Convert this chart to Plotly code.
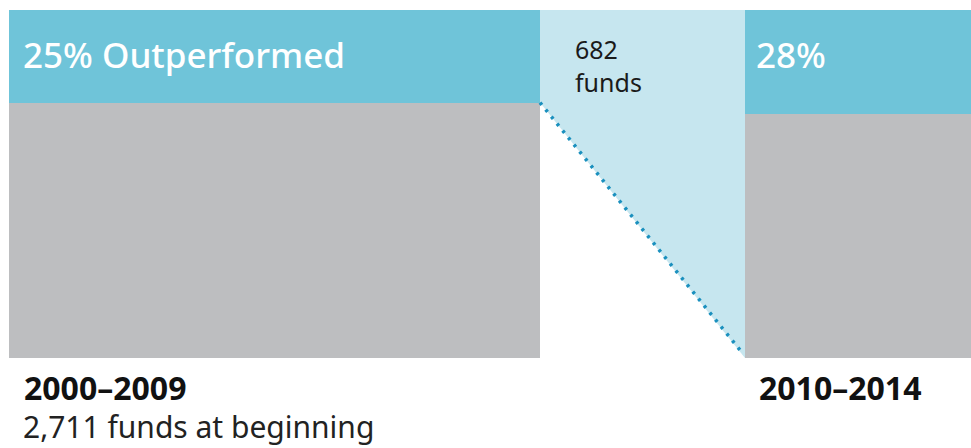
import plotly.graph_objects as go

# Share of funds that outperformed in each period (percent of funds)
periods = ["2000–2009", "2010–2014"]
outperformed_pct = [25, 28]
total_pct = [100, 100]
funds_at_start = "2,711 funds at beginning"
carried_funds = "682"

# Layout of the two bars along a pixel-like x axis
bar_left = [9, 745]
bar_right = [540, 1000]
bar_center = [(a + b) / 2 for a, b in zip(bar_left, bar_right)]
bar_width = [b - a for a, b in zip(bar_left, bar_right)]
axis_floor = 6  # bars are cut off slightly above zero to leave room for labels

BLUE = "#6FC4D9"
LIGHT_BLUE = "#C6E6EF"
GREY = "#BDBEC0"
DOT = "#1A90BE"
FONT = "Noto Sans"

rest = [t - o for t, o in zip(total_pct, outperformed_pct)]

fig = go.Figure()
fig.add_bar(x=bar_center, y=rest, width=bar_width, marker=dict(color=GREY, line_width=0),
            hoverinfo="skip")
fig.add_bar(x=bar_center, y=outperformed_pct, width=bar_width, marker=dict(color=BLUE, line_width=0),
            hoverinfo="skip")

# Funnel from the outperforming slice into the next period
fx0, fx1 = bar_right[0], bar_left[1]
fig.add_scatter(x=[fx0, fx1, fx1, fx0, fx0],
                y=[total_pct[0], total_pct[1], axis_floor, total_pct[0] - outperformed_pct[0], total_pct[0]],
                fill="toself", fillcolor=LIGHT_BLUE, mode="none", hoverinfo="skip")
fig.add_scatter(x=[fx0, fx1 - 3], y=[total_pct[0] - outperformed_pct[0], axis_floor + 1.5], mode="lines",
                line=dict(color=DOT, width=3.5, dash="3px,6px"), hoverinfo="skip")

ann = []
ann.append(dict(x=21, y=88, xref="x", yref="y", xanchor="left", yanchor="middle",
                text=f"{outperformed_pct[0]}% Outperformed",
                font=dict(family=FONT, size=35, color="white", weight=500), showarrow=False))
ann.append(dict(x=754, y=88, xref="x", yref="y", xanchor="left", yanchor="middle",
                text=f"{outperformed_pct[1]}%",
                font=dict(family=FONT, size=35, color="white", weight=500), showarrow=False))
ann.append(dict(x=573, y=94.5, xref="x", yref="y", xanchor="left", yanchor="top", align="left",
                text=f"{carried_funds}<br>funds",
                font=dict(family=FONT, size=25, color="#1a1a1a"), showarrow=False))
ann.append(dict(x=22, y=-0.085, xref="x", yref="paper", xanchor="left", yanchor="middle",
                text=f"<b>{periods[0]}</b>",
                font=dict(family=FONT, size=32, color="#111111"), showarrow=False))
ann.append(dict(x=21, y=-0.196, xref="x", yref="paper", xanchor="left", yanchor="middle",
                text=funds_at_start,
                font=dict(family=FONT, size=30, color="#222222"), showarrow=False))
ann.append(dict(x=757, y=-0.085, xref="x", yref="paper", xanchor="left", yanchor="middle",
                text=f"<b>{periods[1]}</b>",
                font=dict(family=FONT, size=32, color="#111111"), showarrow=False))

fig.update_layout(
    width=971, height=448,
    margin=dict(l=0, r=0, t=10, b=90),
    barmode="stack", showlegend=False,
    plot_bgcolor="white", paper_bgcolor="white",
    xaxis=dict(range=[0, 971], visible=False, fixedrange=True),
    yaxis=dict(range=[axis_floor, 100], visible=False, fixedrange=True),
    annotations=ann,
)

fig.write_html("out.html")
